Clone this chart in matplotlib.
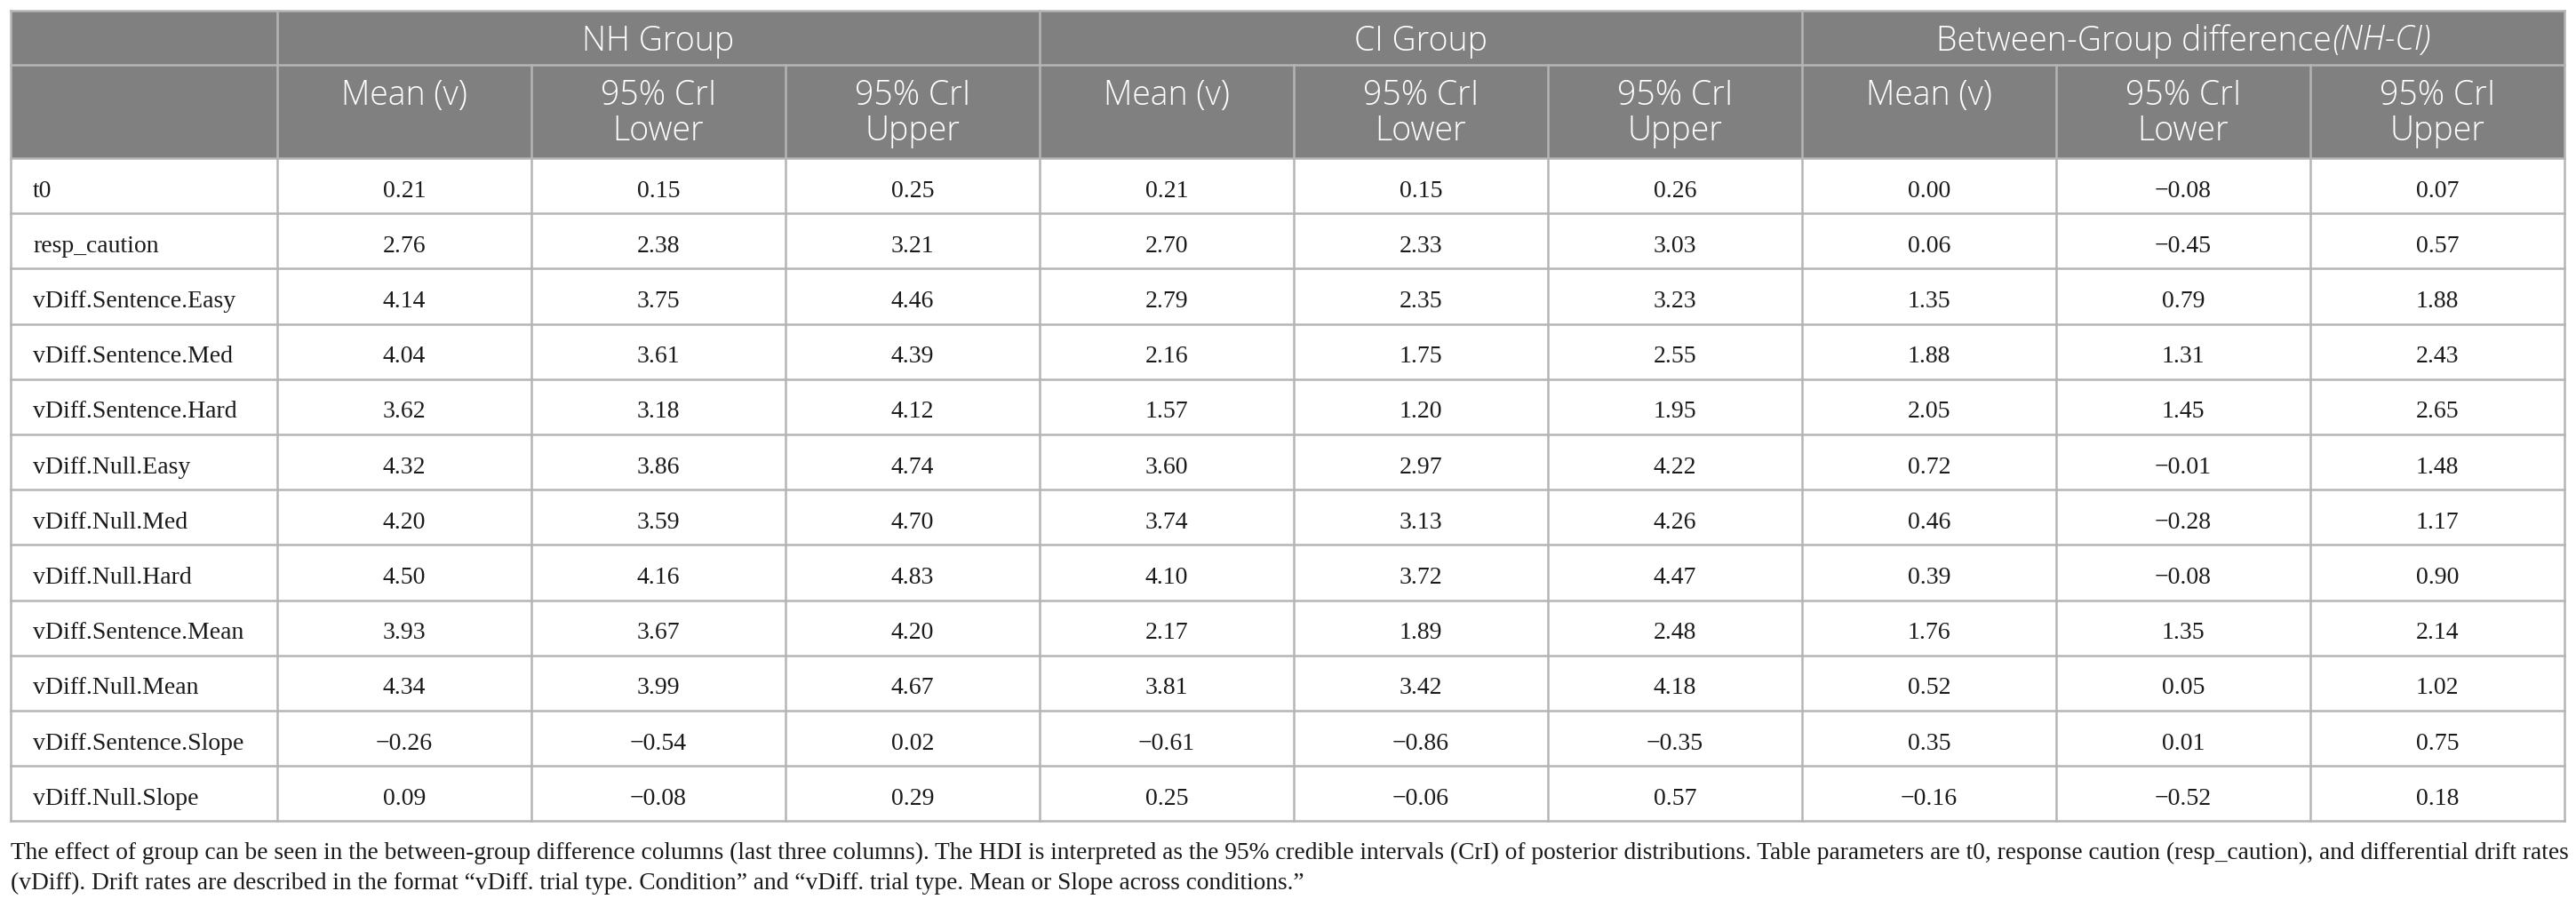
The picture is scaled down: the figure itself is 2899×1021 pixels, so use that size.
import matplotlib
matplotlib.use("Agg")
import matplotlib.pyplot as plt
from matplotlib.patches import Rectangle

# parameters (rows)
params = ["t0", "resp_caution", "vDiff.Sentence.Easy", "vDiff.Sentence.Med",
          "vDiff.Sentence.Hard", "vDiff.Null.Easy", "vDiff.Null.Med",
          "vDiff.Null.Hard", "vDiff.Sentence.Mean", "vDiff.Null.Mean",
          "vDiff.Sentence.Slope", "vDiff.Null.Slope"]

groups = ["NH Group", "CI Group", "Between-Group difference"]
sub_headers = ["Mean (v)", "95% CrI\nLower", "95% CrI\nUpper"]

nh_mean = [0.21, 2.76, 4.14, 4.04, 3.62, 4.32, 4.20, 4.50, 3.93, 4.34, -0.26, 0.09]
nh_lower = [0.15, 2.38, 3.75, 3.61, 3.18, 3.86, 3.59, 4.16, 3.67, 3.99, -0.54, -0.08]
nh_upper = [0.25, 3.21, 4.46, 4.39, 4.12, 4.74, 4.70, 4.83, 4.20, 4.67, 0.02, 0.29]

ci_mean = [0.21, 2.70, 2.79, 2.16, 1.57, 3.60, 3.74, 4.10, 2.17, 3.81, -0.61, 0.25]
ci_lower = [0.15, 2.33, 2.35, 1.75, 1.20, 2.97, 3.13, 3.72, 1.89, 3.42, -0.86, -0.06]
ci_upper = [0.26, 3.03, 3.23, 2.55, 1.95, 4.22, 4.26, 4.47, 2.48, 4.18, -0.35, 0.57]

diff_mean = [0.00, 0.06, 1.35, 1.88, 2.05, 0.72, 0.46, 0.39, 1.76, 0.52, 0.35, -0.16]
diff_lower = [-0.08, -0.45, 0.79, 1.31, 1.45, -0.01, -0.28, -0.08, 1.35, 0.05, 0.01, -0.52]
diff_upper = [0.07, 0.57, 1.88, 2.43, 2.65, 1.48, 1.17, 0.90, 2.14, 1.02, 0.75, 0.18]

caption_lines = [
    "The effect of group can be seen in the between-group difference columns (last three columns). "
    "The HDI is interpreted as the 95% credible intervals (CrI) of posterior distributions. "
    "Table parameters are t0, response caution (resp_caution), and differential drift rates",
    "(vDiff). Drift rates are described in the format \u201cvDiff. trial type. Condition\u201d and "
    "\u201cvDiff. trial type. Mean or Slope across conditions.\u201d",
]

columns = [nh_mean, nh_lower, nh_upper, ci_mean, ci_lower, ci_upper,
           diff_mean, diff_lower, diff_upper]

# layout in pixels
W, H = 2899, 1021
left, first_w, col_w = 12, 300, 286
top, h1, h2, row_h = 12.5, 61, 104.5, 62.2
hdr_bg = "#808080"
grid_c = "#b5b5b5"
lw = 1.8
serif = "Liberation Serif"
sans = "Open Sans"


def fmt(v):
    return f"{v:.2f}".replace("-", "\u2212")


fig = plt.figure(figsize=(W / 100, H / 100), dpi=100)
ax = fig.add_axes([0, 0, 1, 1])
ax.set_xlim(0, W)
ax.set_ylim(H, 0)
ax.axis("off")

ncol = len(columns)
right = left + first_w + ncol * col_w
hdr_bottom = top + h1 + h2
bottom = hdr_bottom + len(params) * row_h
col_x = [left + first_w + i * col_w for i in range(ncol + 1)]

# header background
ax.add_patch(Rectangle((left, top), right - left, h1 + h2, color=hdr_bg, lw=0))

# horizontal lines
ax.plot([left, right], [top, top], color=grid_c, lw=lw)
ax.plot([left, right], [top + h1, top + h1], color=grid_c, lw=lw)
for i in range(len(params) + 1):
    y = hdr_bottom + i * row_h
    ax.plot([left, right], [y, y], color=grid_c, lw=lw)

# vertical lines
ax.plot([left, left], [top, bottom], color=grid_c, lw=lw)
for i, x in enumerate(col_x):
    y0 = top if i % 3 == 0 else top + h1
    ax.plot([x, x], [y0, bottom], color=grid_c, lw=lw)

renderer = fig.canvas.get_renderer()

# group headers
hsize = 27
hweight = "light"
for g, name in enumerate(groups):
    cx = (col_x[3 * g] + col_x[3 * g + 3]) / 2
    yb = top + 44
    if g == 2:
        t1 = ax.text(0, yb, name, fontsize=hsize, family=sans, weight=hweight,
                     color="white", va="baseline", ha="left")
        t2 = ax.text(0, yb, "(NH-CI)", fontsize=hsize, family=sans, weight=hweight,
                     color="white", style="italic", va="baseline", ha="left")
        w1 = t1.get_window_extent(renderer).width
        w2 = t2.get_window_extent(renderer).width
        x0 = cx - (w1 + w2) / 2
        t1.set_x(x0)
        t2.set_x(x0 + w1)
    else:
        ax.text(cx, yb, name, fontsize=hsize, family=sans, weight=hweight,
                color="white", va="baseline", ha="center")

# sub headers
for i in range(ncol):
    cx = (col_x[i] + col_x[i + 1]) / 2
    for k, line in enumerate(sub_headers[i % 3].split("\n")):
        ax.text(cx, top + h1 + 44 + k * 40.5, line, fontsize=hsize, family=sans,
                weight=hweight, color="white", va="baseline", ha="center")

# body
dsize = 20
for r, name in enumerate(params):
    yb = hdr_bottom + r * row_h + row_h / 2 + 12.5
    ax.text(left + 25, yb, name, fontsize=dsize, family=serif, color="#1a1a1a",
            va="baseline", ha="left")
    for i, col in enumerate(columns):
        cx = (col_x[i] + col_x[i + 1]) / 2
        ax.text(cx, yb, fmt(col[r]), fontsize=dsize, family=serif, color="#1a1a1a",
                va="baseline", ha="center")

# caption, first line stretched to the table width
csize = 18
probe = ax.text(0, 0, caption_lines[0], fontsize=csize, family=serif)
cw = probe.get_window_extent(renderer).width
probe.remove()
csize = csize * (right - left) / cw
for k, line in enumerate(caption_lines):
    ax.text(left, bottom + 43 + k * 34, line, fontsize=csize, family=serif,
            color="#1a1a1a", va="baseline", ha="left")

fig.savefig("out.png", dpi=100)
